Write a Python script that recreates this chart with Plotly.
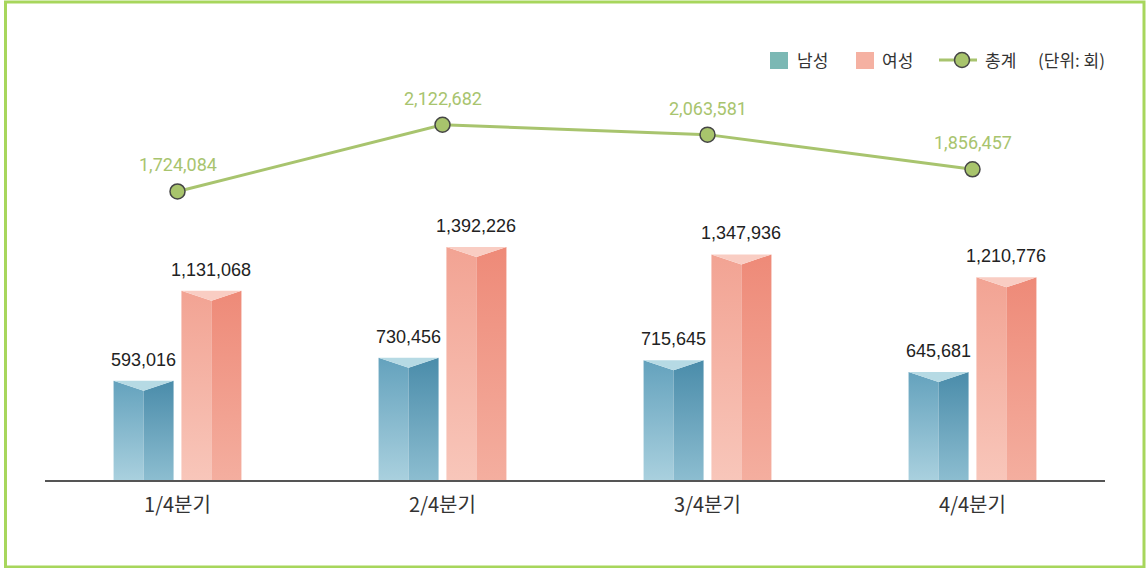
import plotly.graph_objects as go

categories = ["1/4분기", "2/4분기", "3/4분기", "4/4분기"]
male = [593016, 730456, 715645, 645681]
female = [1131068, 1392226, 1347936, 1210776]
total = [1724084, 2122682, 2063581, 1856457]
series_names = ["남성", "여성", "총계"]
unit_label = "(단위: 회)"

W, H = 1147, 568
ML, MR, MT, MB = 45, 42, 40, 88
YMAX = 2629000
plot_h = H - MT - MB
pw = W - ML - MR
units_per_px = YMAX / plot_h
cap = 10 * units_per_px  # depth of the V cap

bar_w = 0.2264
offs = [-0.128, 0.128]

styles = [
    dict(left=("#a9d0de", "#64a2bd"), right=("#8cbdd0", "#4a8caa"), cap="#b6dae4"),
    dict(left=("#f8c6ba", "#f2a393"), right=("#f4ae9f", "#ee8a78"), cap="#f9cdc3"),
]
LINE_C = "#a8c46e"

fig = go.Figure()

def face(xs, ys, c):
    fig.add_trace(go.Scatter(
        x=xs, y=ys, mode="lines", fill="toself", line=dict(width=0),
        fillcolor=c[1],
        fillgradient=dict(type="vertical", colorscale=[[0, c[0]], [1, c[1]]]),
        hoverinfo="skip", showlegend=False))

for si, vals in enumerate([male, female]):
    st = styles[si]
    for i, v in enumerate(vals):
        xc = i + offs[si]
        xl, xr = xc - bar_w / 2, xc + bar_w / 2
        face([xl, xl, xc, xc, xl], [0, v, v - cap, 0, 0], st["left"])
        face([xc, xc, xr, xr, xc], [0, v - cap, v, 0, 0], st["right"])
        fig.add_trace(go.Scatter(
            x=[xl, xc, xr, xl], y=[v, v - cap, v, v], mode="lines", fill="toself",
            line=dict(width=0), fillcolor=st["cap"], hoverinfo="skip", showlegend=False))
        fig.add_annotation(x=xc, y=v, text=f"{v:,}", showarrow=False, yanchor="bottom",
                           yshift=9, font=dict(family="Liberation Sans", size=18, color="#222"))

# total line
fig.add_trace(go.Scatter(
    x=list(range(len(categories))), y=total, mode="lines+markers",
    line=dict(color=LINE_C, width=3),
    marker=dict(size=15, color="#a8c46c", line=dict(color="#454545", width=1.5)),
    showlegend=False, hoverinfo="skip"))
for i, v in enumerate(total):
    fig.add_annotation(x=i, y=v, text=f"{v:,}", showarrow=False, yanchor="bottom",
                       yshift=14, font=dict(family="Roboto", size=18, color=LINE_C))

# manual legend (pixel positions converted to paper coords)
def px(x):
    return (x - ML) / pw

def py(y):
    return (H - MB - y) / plot_h

LEG_Y = 60
LEG_FONT = dict(family="Noto Sans CJK KR", size=17, color="#333")
fig.add_shape(type="rect", xref="paper", yref="paper", x0=px(770), x1=px(788),
              y0=py(69), y1=py(52), line=dict(width=0), fillcolor="#7bb8b4")
fig.add_annotation(xref="paper", yref="paper", x=px(795), y=py(LEG_Y), text=series_names[0],
                   showarrow=False, xanchor="left", yanchor="middle", font=LEG_FONT)
fig.add_shape(type="rect", xref="paper", yref="paper", x0=px(856), x1=px(874),
              y0=py(69), y1=py(52), line=dict(width=0), fillcolor="#f5b1a2")
fig.add_annotation(xref="paper", yref="paper", x=px(880), y=py(LEG_Y), text=series_names[1],
                   showarrow=False, xanchor="left", yanchor="middle", font=LEG_FONT)
fig.add_shape(type="line", xref="paper", yref="paper", x0=px(939), x1=px(977),
              y0=py(LEG_Y), y1=py(LEG_Y), line=dict(color=LINE_C, width=3))
fig.add_shape(type="circle", xref="paper", yref="paper", x0=px(954.5), x1=px(969.5),
              y0=py(LEG_Y + 7.5), y1=py(LEG_Y - 7.5), line=dict(color="#454545", width=1.5),
              fillcolor="#a8c46c")
fig.add_annotation(xref="paper", yref="paper", x=px(983), y=py(LEG_Y), text=series_names[2],
                   showarrow=False, xanchor="left", yanchor="middle", font=LEG_FONT)
fig.add_annotation(xref="paper", yref="paper", x=px(1036), y=py(LEG_Y), text=unit_label,
                   showarrow=False, xanchor="left", yanchor="middle", font=LEG_FONT)

# outer green frame
fig.add_shape(type="rect", xref="paper", yref="paper",
              x0=px(5.5), x1=px(1144), y0=py(567), y1=py(2),
              line=dict(color="#a7d65c", width=3), fillcolor="rgba(0,0,0,0)", layer="below")

fig.update_layout(
    width=W, height=H,
    margin=dict(l=ML, r=MR, t=MT, b=MB),
    paper_bgcolor="white", plot_bgcolor="white",
    showlegend=False,
    xaxis=dict(range=[-0.5, len(categories) - 0.5], tickmode="array",
               tickvals=list(range(len(categories))), ticktext=categories,
               showgrid=False, zeroline=False, showline=True, linecolor="#555", linewidth=2,
               ticks="", ticklabelstandoff=6,
               tickfont=dict(family="Noto Sans CJK KR", size=20, color="#333")),
    yaxis=dict(range=[0, YMAX], visible=False, showgrid=False, zeroline=False),
)

fig.write_html("out.html", config={"displayModeBar": False},
               post_script="document.body.style.margin='0';")
